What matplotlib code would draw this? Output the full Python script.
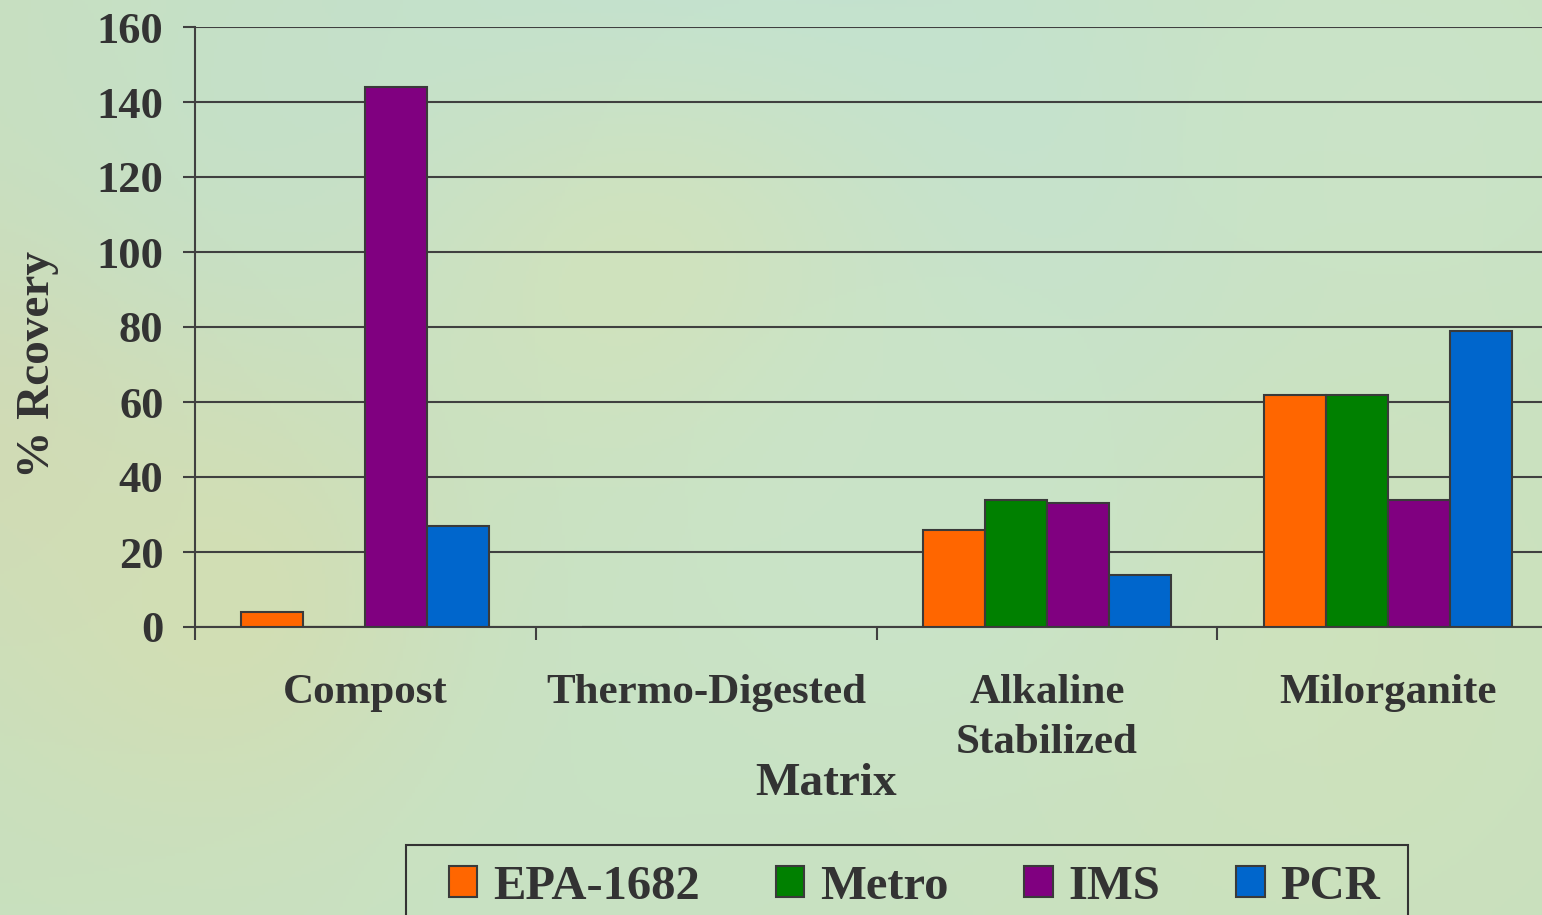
import matplotlib
matplotlib.use("Agg")
import matplotlib.pyplot as plt
import numpy as np
from matplotlib.patches import Patch, Rectangle

plt.rcParams.update({
    "font.family": ["Liberation Serif", "DejaVu Serif"],
    "font.weight": "bold",
    "text.color": "#333333",
    "axes.edgecolor": "#404040",
    "xtick.color": "#404040",
    "ytick.color": "#404040",
})

# recovery (%) per matrix and method
matrices = ["Compost", "Thermo-Digested", "Alkaline\nStabilized", "Milorganite"]
methods = ["EPA-1682", "Metro", "IMS", "PCR"]
epa_1682 = [4, 0, 26, 62]
metro = [0, 0, 34, 62]
ims = [144, 0, 33, 34]
pcr = [27, 0, 14, 79]
y_ticks = [0, 20, 40, 60, 80, 100, 120, 140, 160]

colors = ["#FF6600", "#008000", "#800080", "#0066CC"]
edge = "#3a3a3a"

W, H = 1542, 915
fig = plt.figure(figsize=(W / 100, H / 100), dpi=100)

# soft green backdrop with a few tinted patches
bg_ax = fig.add_axes([0, 0, 1, 1], zorder=-10)
yy, xx = np.mgrid[0:H:3, 0:W:3]
base = np.array([200, 224, 190], dtype=float)
img = np.ones(xx.shape + (3,)) * base
blobs = [
    (60, 420, 160, (212, 216, 176)),
    (300, 120, 240, (198, 224, 198)),
    (720, 90, 260, (192, 226, 212)),
    (1000, 260, 240, (194, 226, 210)),
    (650, 330, 180, (212, 226, 184)),
    (1400, 120, 220, (202, 228, 200)),
    (500, 760, 260, (200, 226, 196)),
    (1300, 650, 220, (206, 226, 188)),
    (220, 600, 160, (210, 222, 180)),
    (900, 520, 200, (202, 228, 200)),
]
for bx, by, r, c in blobs:
    w = np.exp(-((xx - bx) ** 2 + (yy - by) ** 2) / (2 * r ** 2))[..., None]
    img = img * (1 - w) + np.array(c, dtype=float) * w
bg_ax.imshow(img.clip(0, 255).astype(np.uint8), extent=[0, 1, 0, 1],
             aspect="auto", interpolation="bilinear")
bg_ax.axis("off")

ax = fig.add_axes([195 / W, 1 - 627 / H, 1363 / W, 600 / H])
ax.set_facecolor("none")

x = np.arange(len(matrices))
width = 0.182
series = [epa_1682, metro, ims, pcr]
for i, (vals, col, name) in enumerate(zip(series, colors, methods)):
    ax.bar(x + (i - 1.5) * width, vals, width, color=col, edgecolor=edge,
           linewidth=1.5, label=name, zorder=3)

ax.set_xlim(-0.5, len(matrices) - 0.5)
ax.set_ylim(0, 160)
ax.set_yticks(y_ticks)
ax.set_yticklabels([str(v) for v in y_ticks], fontsize=32, fontweight="bold",
                   color="#333333")
ax.yaxis.grid(True, color="#404040", linewidth=1.5, zorder=0)
ax.set_axisbelow(True)

ax.set_xticks(x)
ax.set_xticklabels(matrices, fontsize=31, fontweight="bold", color="#333333",
                   linespacing=1.42)
ax.set_xticks(np.arange(-0.5, len(matrices)), minor=True)
ax.tick_params(axis="x", which="major", length=0, pad=34)
ax.tick_params(axis="x", which="minor", length=9.5, width=1.5)
ax.tick_params(axis="y", length=8.6, width=1.5, pad=14)

for side in ["top", "right"]:
    ax.spines[side].set_visible(False)
for side in ["left", "bottom"]:
    ax.spines[side].set_linewidth(1.5)

fig.text(38 / W, 1 - 364 / H, "% Rcovery", rotation=90, fontsize=34,
         fontweight="bold", ha="center", va="center")
fig.text(826 / W, 1 - 784 / H, "Matrix", fontsize=34, fontweight="bold",
         ha="center", va="center")

# legend box runs off the bottom edge
fig.patches.append(Rectangle((406 / W, -0.05), 1002 / W, 0.05 + (H - 845) / H,
                             transform=fig.transFigure, facecolor="none",
                             edgecolor="#333333", linewidth=1.5))
handles = [Patch(facecolor=c, edgecolor=edge, linewidth=1.5) for c in colors]
leg = fig.legend(handles, methods, loc="upper left",
                 bbox_to_anchor=(449 / W, 1 - 865 / H), ncol=4,
                 prop={"family": "Liberation Serif", "weight": "bold", "size": 35},
                 frameon=False, borderaxespad=0, borderpad=0,
                 handlelength=0.58, handleheight=0.6, handletextpad=0.33,
                 columnspacing=1.56)
for t in leg.get_texts():
    t.set_color("#333333")

fig.savefig("out.png", dpi=100)
